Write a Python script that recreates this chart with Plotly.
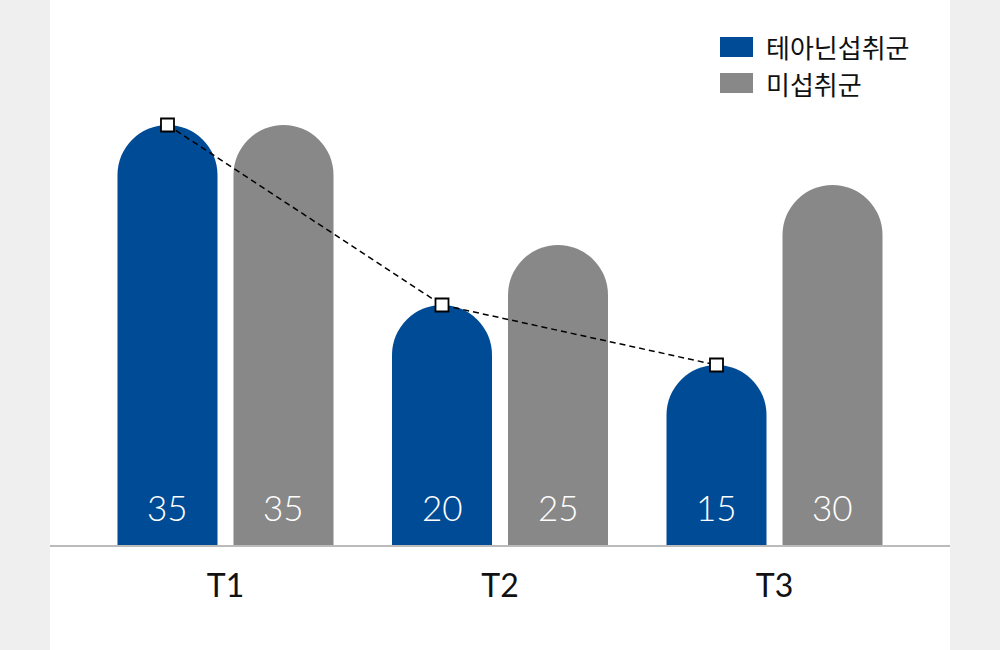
import plotly.graph_objects as go

categories = ["T1", "T2", "T3"]
series_names = ["테아닌섭취군", "미섭취군"]
theanine = [35, 20, 15]
control = [35, 25, 30]
colors = ["#004b96", "#888888"]

idx = list(range(len(categories)))
off = 0.2113
bw = 0.3643
x_blue = [i - off for i in idx]
x_gray = [i + off for i in idx]

fig = go.Figure()
fig.add_trace(go.Bar(x=x_blue, y=theanine, width=bw, marker_color=colors[0],
                     marker_line_width=0, name=series_names[0], hoverinfo="skip"))
fig.add_trace(go.Bar(x=x_gray, y=control, width=bw, marker_color=colors[1],
                     marker_line_width=0, name=series_names[1], hoverinfo="skip"))
fig.add_trace(go.Scatter(x=x_blue, y=theanine, mode="lines+markers",
                         line=dict(color="#000000", width=1.5, dash="6px,4px"),
                         marker=dict(symbol="square", size=13, color="#ffffff",
                                     line=dict(color="#000000", width=1.8)),
                         showlegend=False, hoverinfo="skip"))

annotations = []
for xs, vals in ((x_blue, theanine), (x_gray, control)):
    for x, v in zip(xs, vals):
        annotations.append(dict(x=x, y=0, xref="x", yref="y", text=str(v),
                                showarrow=False, yanchor="bottom", yshift=15,
                                font=dict(family="Lato, Inter, sans-serif", size=35,
                                          color="#ffffff", weight=300)))

# white panel + manual legend
shapes = [dict(type="rect", xref="paper", yref="paper", x0=0, x1=1, y0=-1, y1=2,
               fillcolor="#ffffff", line_width=0, layer="below")]
leg_y = [47, 83]
for name, col, yc in zip(series_names, colors, leg_y):
    shapes.append(dict(type="rect", xref="paper", yref="paper",
                       x0=(720 - 50) / 900, x1=(753 - 50) / 900,
                       y0=(545 - (yc + 10)) / 540, y1=(545 - (yc - 10)) / 540,
                       fillcolor=col, line_width=0))
    annotations.append(dict(x=(764 - 50) / 900, y=(545 - yc) / 540, xref="paper", yref="paper",
                            text=name, showarrow=False, xanchor="left", yanchor="middle",
                            font=dict(family="Noto Sans CJK KR", size=26, color="#111111")))

fig.update_layout(
    width=1000, height=650,
    margin=dict(l=50, r=50, t=5, b=105),
    paper_bgcolor="#efefef", plot_bgcolor="#ffffff",
    barcornerradius=50,
    showlegend=False,
    shapes=shapes,
    annotations=annotations,
    xaxis=dict(range=[-0.6393, 2.6393], tickvals=idx, ticktext=categories,
               showgrid=False, zeroline=False, showline=True, linecolor="#bbbbbb",
               linewidth=2, ticks="", ticklabelstandoff=12,
               tickfont=dict(family="Lato, Noto Sans CJK KR", size=32, color="#111111")),
    yaxis=dict(range=[0, 45], visible=False, showgrid=False, zeroline=False),
)

fig.write_html("out.html", config={"displayModeBar": False},
               post_script="document.body.style.margin='0';")
